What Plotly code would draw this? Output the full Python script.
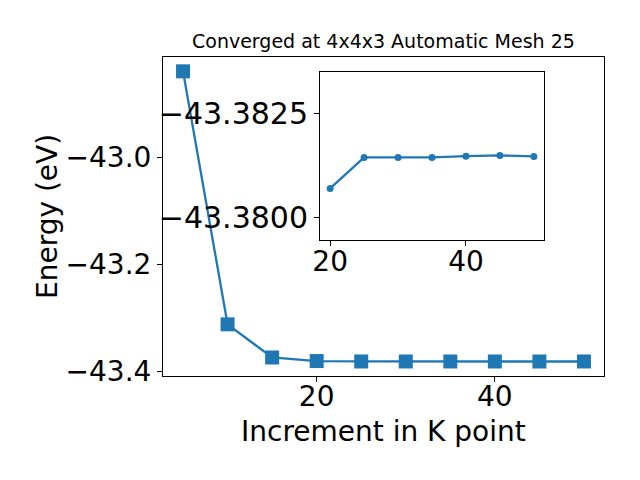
import plotly.graph_objects as go

# Main data: k-point increment vs total energy
kpoints = [5, 10, 15, 20, 25, 30, 35, 40, 45, 50]
energy = [-42.839, -43.312, -43.374, -43.38069, -43.381435, -43.381435,
          -43.381435, -43.381466, -43.381483, -43.38146]

# Inset (zoom on converged region)
inset_k = [20, 25, 30, 35, 40, 45, 50]
inset_e = [-43.38069, -43.381435, -43.381435, -43.381435, -43.381466,
           -43.381483, -43.38146]

main_yticks = [-43.4, -43.2, -43.0]
main_xticks = [20, 40]
inset_yticks = [-43.3825, -43.3800]
inset_yticklabels = ["\u221243.3825", "\u221243.3800"]
inset_xticks = [20, 40]

title_text = "Converged at 4x4x3 Automatic Mesh 25"
xlabel = "Increment in K point"
ylabel = "Energy (eV)"

C = "#1f77b4"
FONT = "DejaVu Sans"

# page body has an 8px default margin; work in screen pixels
OFF = 8
W, H = 640 - OFF, 480 - OFF


def px_x(x):
    return (x - OFF) / W


def px_y(y):
    return 1 - (y - OFF) / H


fig = go.Figure()
fig.add_trace(go.Scatter(x=kpoints, y=energy, mode="lines+markers",
                         line=dict(color=C, width=2.3),
                         marker=dict(symbol="square", size=14, color=C),
                         xaxis="x", yaxis="y", showlegend=False))
fig.add_trace(go.Scatter(x=inset_k, y=inset_e, mode="lines+markers",
                         line=dict(color=C, width=2.3),
                         marker=dict(symbol="circle", size=7, color=C),
                         xaxis="x2", yaxis="y2", showlegend=False))


def axis_common(fs=28):
    return dict(showgrid=False, zeroline=False, showline=True, linecolor="black",
                linewidth=1, mirror=True, ticks="outside", ticklen=5, tickwidth=1,
                automargin=False,
                tickcolor="black", tickfont=dict(family=FONT, size=fs, color="black"))


fig.update_layout(
    width=W, height=H,
    margin=dict(l=0, r=0, t=0, b=0),
    paper_bgcolor="white", plot_bgcolor="white",
    font=dict(family=FONT, color="black"),
    xaxis=dict(domain=[px_x(163), px_x(604)], range=[2.75, 52.25], tickvals=main_xticks,
               anchor="y", ticklabelstandoff=-10, **axis_common()),
    yaxis=dict(domain=[px_y(376), px_y(57)], range=[-43.4086, -42.8122],
               tickvals=main_yticks, tickformat=".1f", anchor="x", **axis_common()),
    xaxis2=dict(domain=[px_x(320), px_x(544)], range=[18.5, 51.5], tickvals=inset_xticks,
                anchor="y2", ticklabelstandoff=-9, **axis_common()),
    yaxis2=dict(domain=[px_y(240), px_y(72)], range=[-43.37945, -43.38349],
                tickvals=inset_yticks, ticktext=inset_yticklabels, anchor="x2",
                **axis_common(30)),
    annotations=[
        dict(text=title_text, x=px_x(383.5), y=px_y(41), xref="paper", yref="paper",
             showarrow=False, xanchor="center", yanchor="middle",
             font=dict(family=FONT, size=19, color="black")),
        dict(text=xlabel, x=px_x(383.5), y=px_y(431), xref="paper", yref="paper",
             showarrow=False, xanchor="center", yanchor="middle",
             font=dict(family=FONT, size=28, color="black")),
        dict(text=ylabel, x=px_x(47), y=px_y(217), xref="paper", yref="paper",
             showarrow=False, xanchor="center", yanchor="middle", textangle=-90,
             font=dict(family=FONT, size=28, color="black")),
    ],
)

fig.write_html("out.html")
